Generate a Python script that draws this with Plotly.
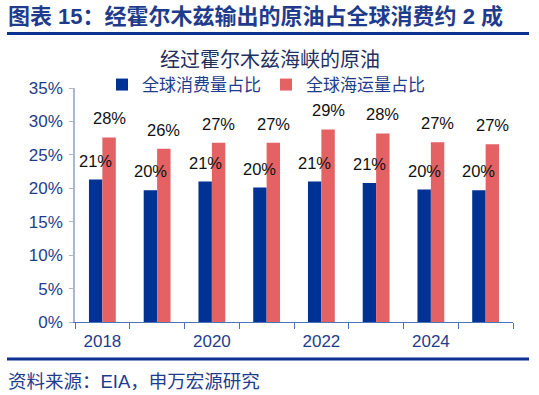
import plotly.graph_objects as go

years = [2018, 2019, 2020, 2021, 2022, 2023, 2024, 2025]
consumption_share = [21.3, 19.7, 21.0, 20.1, 21.0, 20.8, 19.8, 19.7]
seaborne_share = [27.6, 25.9, 26.8, 26.8, 28.8, 28.2, 26.9, 26.6]
series_names = ["全球消费量占比", "全球海运量占比"]
y_ticks = [0, 5, 10, 15, 20, 25, 30, 35]
x_label_years = [2018, 2020, 2022, 2024]

BLUE = "#003296"
RED = "#e46164"
NAVY = "#1f3c8c"
FONT = "Liberation Sans, Arial, Noto Sans CJK SC, sans-serif"

W, H = 539, 395
L, T = 75, 88
R = W - 513
B = H - 322
pw, ph = W - L - R, H - T - B


def px(x):
    return (x - L) / pw


def py(y):
    return (H - B - y) / ph


bw = 0.245
fig = go.Figure()
fig.add_trace(go.Bar(x=years, y=[v / 100 for v in consumption_share], name=series_names[0],
                     marker_color=BLUE, width=bw, offset=-bw, marker_line_width=0))
fig.add_trace(go.Bar(x=years, y=[v / 100 for v in seaborne_share], name=series_names[1],
                     marker_color=RED, width=bw, offset=0, marker_line_width=0))

annotations = []
for yr, v in zip(years, consumption_share):
    annotations.append(dict(x=yr - bw / 2, y=v / 100, text=f"{round(v)}%", showarrow=False,
                            xref="x", yref="y", yanchor="bottom", yshift=8,
                            font=dict(size=16.5, color="#111111", family=FONT)))
for yr, v in zip(years, seaborne_share):
    annotations.append(dict(x=yr + bw / 2, y=v / 100, text=f"{round(v)}%", showarrow=False,
                            xref="x", yref="y", yanchor="bottom", yshift=8,
                            font=dict(size=16.5, color="#111111", family=FONT)))

annotations += [
    dict(x=px(6), y=py(17), xref="paper", yref="paper", xanchor="left", yanchor="middle",
         text="<b>图表 15：经霍尔木兹输出的原油占全球消费约 2 成</b>", showarrow=False,
         font=dict(size=22, color=NAVY, family=FONT)),
    dict(x=px(270), y=py(60), xref="paper", yref="paper", xanchor="center", yanchor="middle",
         text="经过霍尔木兹海峡的原油", showarrow=False,
         font=dict(size=20, color="#1f2f5f", family=FONT)),
    dict(x=px(6), y=py(381), xref="paper", yref="paper", xanchor="left", yanchor="middle",
         text="资料来源：EIA，申万宏源研究", showarrow=False,
         font=dict(size=18.5, color=NAVY, family=FONT)),
]

shapes = [
    dict(type="line", xref="paper", yref="paper", x0=px(7), x1=px(529), y0=py(33.5), y1=py(33.5),
         line=dict(color="#0d3190", width=3)),
    dict(type="line", xref="paper", yref="paper", x0=px(7), x1=px(529), y0=py(359), y1=py(359),
         line=dict(color="#0d3190", width=3)),
]

fig.update_layout(
    width=W, height=H,
    margin=dict(l=L, r=R, t=T, b=B, pad=0, autoexpand=False),
    paper_bgcolor="white", plot_bgcolor="white",
    barmode="overlay",
    showlegend=True,
    legend=dict(orientation="h", x=px(266), xanchor="center", y=py(85), yanchor="middle",
                font=dict(size=17, color=NAVY, family=FONT), itemwidth=30,
                bgcolor="rgba(0,0,0,0)"),
    annotations=annotations,
    shapes=shapes,
    font=dict(family=FONT),
    xaxis=dict(type="linear", range=[2017.5, 2025.5], tickvals=x_label_years,
               ticktext=[str(y) for y in x_label_years], ticks="", showgrid=False,
               showline=True, linecolor="#4d74b8", linewidth=1, zeroline=False,
               ticklabelstandoff=4,
               tickfont=dict(size=17, color=NAVY, family=FONT),
               minor=dict(tickvals=[y + 0.5 for y in [2017] + years], ticks="outside",
                          ticklen=6, tickcolor="#4d74b8", tickwidth=1, showgrid=False)),
    yaxis=dict(range=[0, 0.35], tickvals=[t / 100 for t in y_ticks],
               ticktext=[f"{t}%" for t in y_ticks], showgrid=False, zeroline=False,
               showline=True, linecolor="#a9b7cf", linewidth=1.5,
               ticks="outside", ticklen=4, tickcolor="#a9b7cf", ticklabelstandoff=3,
               tickfont=dict(size=17, color=NAVY, family=FONT)),
)

fig.write_html("out.html", config={"displayModeBar": False},
               post_script="document.body.style.margin='0px';")
